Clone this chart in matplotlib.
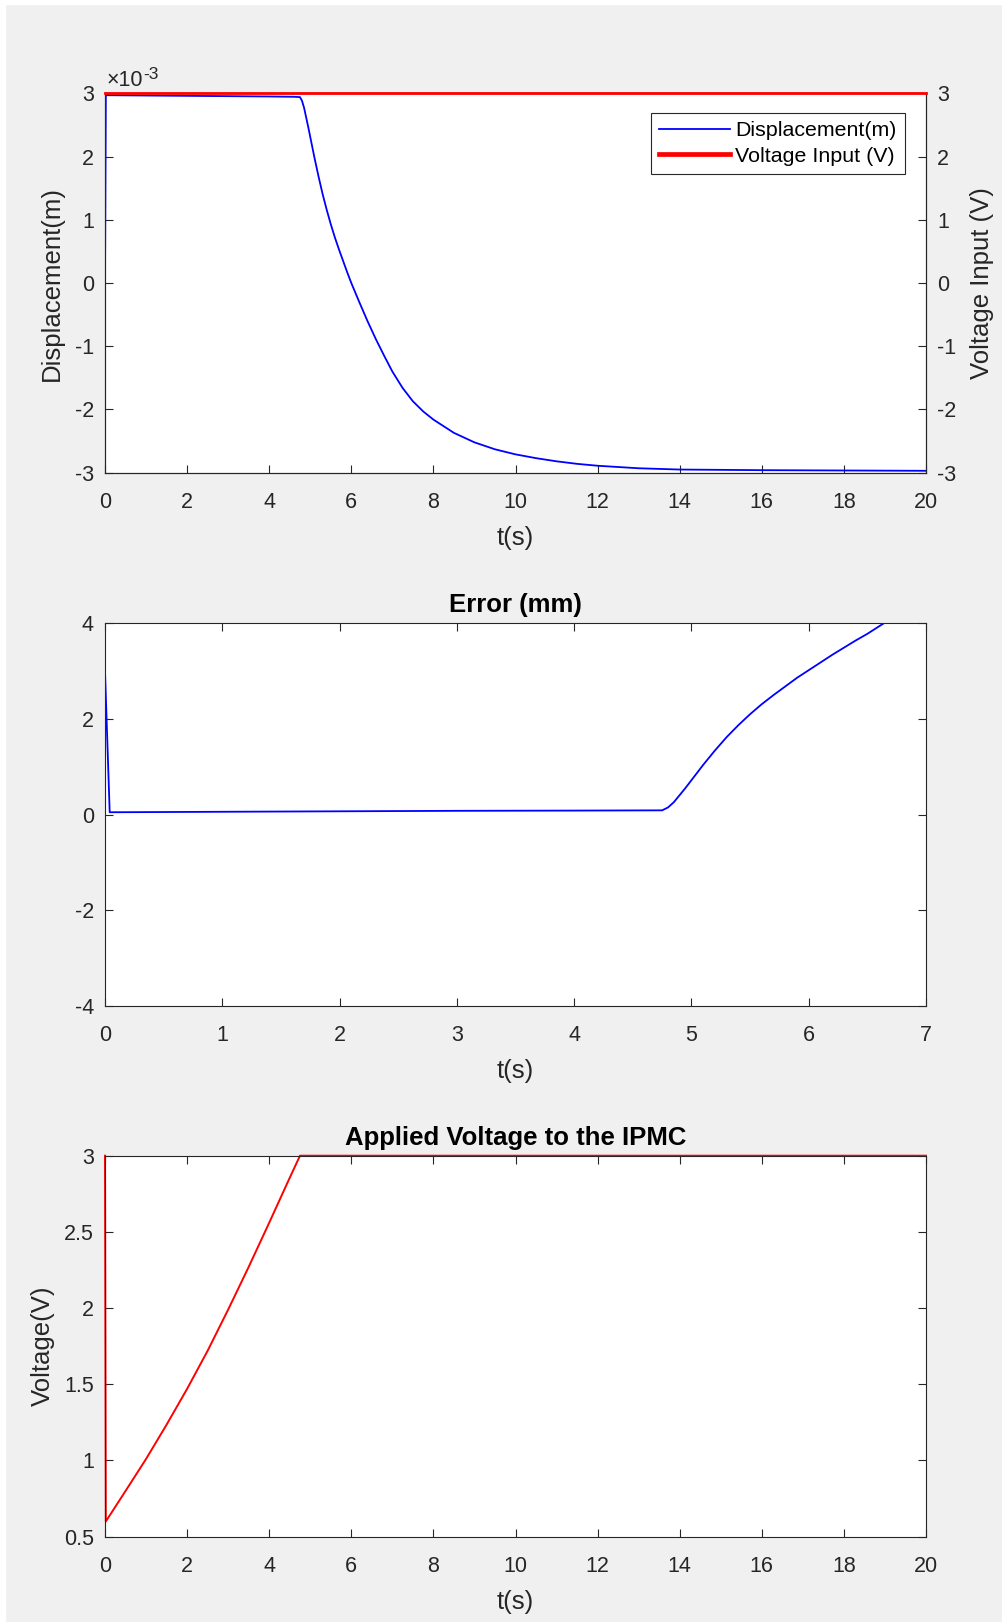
import numpy as np
import matplotlib
matplotlib.use("Agg")
import matplotlib.pyplot as plt
from matplotlib.ticker import FuncFormatter
from matplotlib.patches import Rectangle

# === Data ===
# Panel 1: displacement (x1e-3 m) and constant voltage input (V)
disp_t = [0, 0.02, 1, 2, 3, 4, 4.6, 4.75, 4.80, 4.85, 4.90, 4.95, 5.0, 5.1,
          5.2, 5.3, 5.4, 5.5, 5.6, 5.7, 5.8, 5.9, 6.0, 6.2, 6.4, 6.6, 6.8,
          7.0, 7.25, 7.5, 7.75, 8.0, 8.5, 9.0, 9.5, 10.0, 10.5, 11.0, 11.5,
          12.0, 13.0, 14.0, 16.0, 18.0, 20.0]
disp_mm = [0, 2.97, 2.965, 2.96, 2.955, 2.95, 2.945, 2.94, 2.88, 2.77, 2.62,
           2.47, 2.31, 1.99, 1.69, 1.41, 1.16, 0.93, 0.72, 0.53, 0.35, 0.17,
           0.0, -0.31, -0.61, -0.89, -1.15, -1.40, -1.66, -1.87, -2.03,
           -2.16, -2.37, -2.52, -2.63, -2.71, -2.77, -2.82, -2.86, -2.89,
           -2.93, -2.95, -2.96, -2.965, -2.97]
vin_t = [0, 20]
vin_v = [3, 3]

# Panel 2: error (mm)
err_t = [0, 0.04, 1, 2, 3, 4, 4.75, 4.80, 4.85, 4.90, 4.95, 5.0, 5.1, 5.2,
         5.3, 5.4, 5.5, 5.6, 5.7, 5.8, 5.9, 6.0, 6.1, 6.2, 6.3, 6.4, 6.5,
         6.64]
err_mm = [3.0, 0.05, 0.06, 0.07, 0.08, 0.085, 0.09, 0.15, 0.26, 0.41, 0.56,
          0.72, 1.04, 1.34, 1.62, 1.87, 2.10, 2.31, 2.50, 2.68, 2.86, 3.02,
          3.18, 3.34, 3.49, 3.64, 3.78, 4.0]

# Panel 3: applied voltage (V)
volt_t = [0, 0.02, 0.5, 1.0, 1.5, 2.0, 2.5, 3.0, 3.5, 4.0, 4.5, 4.75, 20]
volt_v = [3.0, 0.6, 0.80, 1.01, 1.235, 1.47, 1.72, 1.99, 2.27, 2.56, 2.855,
          3.0, 3.0]

# === Style ===
plt.rcParams['font.family'] = ['Liberation Sans', 'DejaVu Sans']
plt.rcParams['axes.unicode_minus'] = False

DARK = (0.15, 0.15, 0.15)
TICK_FS = 15.5
LABEL_FS = 18.5
TITLE_FS = 18.5
LEG_FS = 15.4


def style_axes(ax, right=True, top=True):
    ax.tick_params(direction='in', length=5.8, width=0.8, colors=DARK,
                   labelsize=TICK_FS, top=top, right=right)
    ax.tick_params(axis='x', pad=14)
    ax.tick_params(axis='y', pad=8)
    for sp in ax.spines.values():
        sp.set_color(DARK)
        sp.set_linewidth(0.8)


def plain(v, pos):
    return '%g' % v


fig = plt.figure(figsize=(10.02, 16.22), dpi=100, facecolor='#f0f0f0')
# thin white strip on the top and left edges of the capture
fig.patches.append(Rectangle((0, 0), 5 / 1002, 1, transform=fig.transFigure,
                             color='white', zorder=-10))
fig.patches.append(Rectangle((0, 1 - 4 / 1622), 1, 4 / 1622,
                             transform=fig.transFigure, color='white', zorder=-10))

L, W = 105 / 1002, 821 / 1002

# === Chart 1: displacement + voltage input ===
ax1 = fig.add_axes([L, 0.70857, W, 0.2339])
ax2 = ax1.twinx()
ln1, = ax1.plot(disp_t, disp_mm, color='blue', lw=1.3,
                label='Displacement(m)')
ln2, = ax2.plot(vin_t, vin_v, color='red', lw=2.0, clip_on=False, zorder=5,
                label='Voltage Input (V)')
ax1.set_xlim(0, 20)
ax1.set_ylim(-3, 3)
ax2.set_ylim(-3, 3)
ax1.set_xticks(np.arange(0, 21, 2))
ax1.set_yticks(np.arange(-3, 4))
ax2.set_yticks(np.arange(-3, 4))
ax1.yaxis.set_major_formatter(FuncFormatter(plain))
ax2.yaxis.set_major_formatter(FuncFormatter(plain))
style_axes(ax1, right=False, top=False)
style_axes(ax2, right=True, top=False)
ax2.tick_params(left=False)
ax1.set_xlabel('t(s)', fontsize=LABEL_FS, color=DARK, labelpad=9)
ax1.set_ylabel('Displacement(m)', fontsize=LABEL_FS, color=DARK, labelpad=8)
ax2.set_ylabel('Voltage Input (V)', fontsize=LABEL_FS, color=DARK, labelpad=9.5)
# exponent marker of the left axis (values are in units of 1e-3 m)
base = ax1.annotate('\u00d710', xy=(0, 1), xycoords='axes fraction',
                    xytext=(1, 1.5), textcoords='offset points',
                    fontsize=TICK_FS, color=DARK, va='bottom', ha='left')
ax1.annotate('-3', xy=(1, 1), xycoords=base, xytext=(0.5, -3),
             textcoords='offset points', fontsize=12.5, color=DARK,
             va='center', ha='left')

leg = ax2.legend([ln1, ln2], [ln1.get_label(), ln2.get_label()],
                 loc='upper right', bbox_to_anchor=(0.9745, 0.9489),
                 borderaxespad=0, fontsize=LEG_FS, handlelength=3.3,
                 handletextpad=0.25, labelspacing=0.3, borderpad=0.4,
                 fancybox=False, framealpha=1, edgecolor=DARK)
leg.get_frame().set_linewidth(0.8)
leg.legend_handles[1].set_linewidth(3.4)

# === Chart 2: error ===
ax3 = fig.add_axes([L, 0.37978, W, 0.23594])
ax3.plot(err_t, err_mm, color='blue', lw=1.3)
ax3.set_xlim(0, 7)
ax3.set_ylim(-4, 4)
ax3.set_xticks(np.arange(0, 8, 1))
ax3.set_yticks(np.arange(-4, 5, 2))
ax3.yaxis.set_major_formatter(FuncFormatter(plain))
style_axes(ax3)
ax3.set_title('Error (mm)', fontsize=TITLE_FS, fontweight='bold', pad=8)
ax3.set_xlabel('t(s)', fontsize=LABEL_FS, color=DARK, labelpad=9)

# === Chart 3: applied voltage ===
ax4 = fig.add_axes([L, 0.05259, W, 0.2349])
ax4.plot(volt_t, volt_v, color='red', lw=1.4, clip_on=False)
ax4.set_xlim(0, 20)
ax4.set_ylim(0.5, 3)
ax4.set_xticks(np.arange(0, 21, 2))
ax4.set_yticks(np.arange(0.5, 3.01, 0.5))
ax4.yaxis.set_major_formatter(FuncFormatter(plain))
style_axes(ax4)
ax4.set_title('Applied Voltage to the IPMC', fontsize=TITLE_FS,
              fontweight='bold', pad=8)
ax4.set_xlabel('t(s)', fontsize=LABEL_FS, color=DARK, labelpad=9)
ax4.set_ylabel('Voltage(V)', fontsize=LABEL_FS, color=DARK, labelpad=6.7)

fig.savefig('out.png', dpi=100, facecolor=fig.get_facecolor())
